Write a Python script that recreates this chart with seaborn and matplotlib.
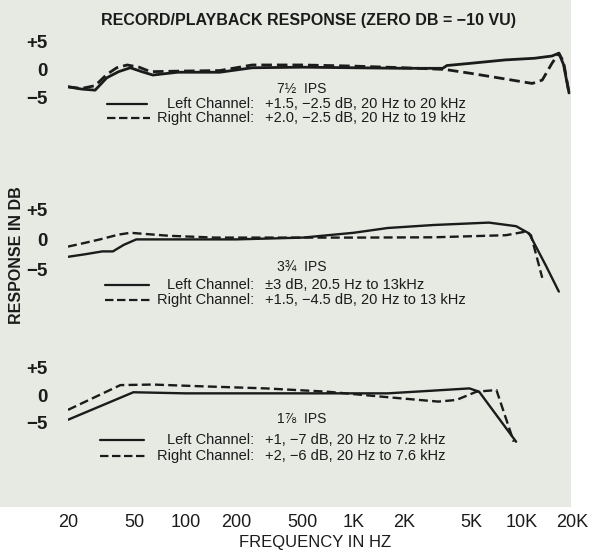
import numpy as np
import pandas as pd
import matplotlib
matplotlib.use("Agg")
import matplotlib.pyplot as plt
from matplotlib.patches import Rectangle
from matplotlib.lines import Line2D
import seaborn as sns

# frequency (Hz) / response (dB), one pair per channel and speed
f_75_left = [20, 24, 29, 34, 40, 47, 55, 64, 90, 160, 250, 500, 1000, 2000, 3400, 3600, 5000, 8000, 12000, 15200, 16700, 17800, 19200]
db_75_left = [-3.0, -3.4, -3.6, -1.4, -0.3, 0.4, -0.3, -0.9, -0.4, -0.4, 0.4, 0.5, 0.4, 0.3, 0.3, 0.8, 1.2, 1.8, 2.1, 2.5, 3.0, 1.0, -4.1]
f_75_right = [20, 24, 29, 34, 39, 45, 53, 62, 90, 160, 250, 500, 1000, 2000, 3500, 5000, 8000, 11600, 13300, 15200, 16700, 17800, 19200]
db_75_right = [-3.0, -3.3, -2.8, -0.8, 0.4, 0.9, 0.5, -0.3, -0.2, -0.1, 0.9, 0.9, 0.7, 0.4, 0.1, -0.6, -1.6, -2.4, -1.8, 1.2, 3.0, 1.5, -4.1]

f_375_left = [20, 25, 32, 37, 43, 51, 100, 200, 500, 1000, 1600, 3000, 6400, 9300, 11100, 14000, 16700]
db_375_left = [-2.8, -2.4, -1.9, -1.9, -0.8, 0.1, 0.1, 0.1, 0.4, 1.2, 2.0, 2.5, 2.9, 2.3, 1.1, -4.3, -8.6]
f_375_right = [20, 25, 31, 40, 47, 80, 150, 300, 1000, 3000, 8100, 10600, 11400, 13300]
db_375_right = [-1.1, -0.5, 0.1, 0.9, 1.2, 0.7, 0.4, 0.4, 0.4, 0.45, 0.8, 1.4, 0.8, -6.3]

f_178_left = [20, 49, 100, 300, 1000, 1600, 3000, 4900, 5600, 9300]
db_178_left = [-4.5, 0.5, 0.3, 0.3, 0.3, 0.3, 0.8, 1.2, 0.6, -8.5]
f_178_right = [20, 41, 64, 120, 300, 700, 1600, 3200, 4100, 5400, 7100, 9000]
db_178_right = [-2.7, 1.8, 1.9, 1.6, 1.2, 0.6, -0.4, -1.2, -0.9, 0.6, 0.9, -8.5]

speeds = ["7\u00bd  IPS", "3\u00be  IPS", "1\u215e  IPS"]
left_specs = ["+1.5, \u22122.5 dB, 20 Hz to 20 kHz",
              "\u00b13 dB, 20.5 Hz to 13kHz",
              "+1, \u22127 dB, 20 Hz to 7.2 kHz"]
right_specs = ["+2.0, \u22122.5 dB, 20 Hz to 19 kHz",
               "+1.5, \u22124.5 dB, 20 Hz to 13 kHz",
               "+2, \u22126 dB, 20 Hz to 7.6 kHz"]

freq_ticks = [20, 50, 100, 200, 500, 1000, 2000, 5000, 10000, 20000]
freq_labels = ["20", "50", "100", "200", "500", "1K", "2K", "5K", "10K", "20K"]

sns.set_style("white")
FONT = ["Liberation Sans", "DejaVu Sans"]
plt.rcParams["font.family"] = FONT

W, H = 589, 551
INK = "#1b1b1b"
fig = plt.figure(figsize=(W / 100, H / 100), dpi=100, facecolor="white")
fig.patches.append(Rectangle((0, 1 - 507 / H), 571 / W, 507 / H, transform=fig.transFigure,
                             facecolor="#e6eae3", edgecolor="none", zorder=-5))


def px(x, y):
    return x / W, 1 - y / H


panels = [
    (f_75_left, db_75_left, f_75_right, db_75_right),
    (f_375_left, db_375_left, f_375_right, db_375_right),
    (f_178_left, db_178_left, f_178_right, db_178_right),
]
# zero line pixel row, px per dB
zero_rows = [70, 240, 395]
scales = [5.6, 6.0, 5.5]
label_rows = [(89, 104, 118), (268, 285, 300), (419, 440, 456)]
line_x = [(107, 150), (105, 152), (100, 147)]

for i, (fl, dl, fr, dr) in enumerate(panels):
    top = zero_rows[i] - 7 * scales[i]
    bot = zero_rows[i] + 10 * scales[i]
    ax = fig.add_axes([68 / W, 1 - bot / H, 504 / W, (bot - top) / H])
    ax.patch.set_alpha(0)
    df = pd.DataFrame({
        "freq": fl + fr,
        "db": dl + dr,
        "channel": ["Left"] * len(fl) + ["Right"] * len(fr),
    })
    lw = 2.0 if i == 0 else 1.7
    sns.lineplot(data=df, x="freq", y="db", style="channel", ax=ax, color=INK,
                 dashes={"Left": "", "Right": (3.8, 1.8)}, estimator=None,
                 sort=False, legend=False, linewidth=lw)
    ax.set_xscale("log")
    ax.set_xlim(20, 20000)
    ax.set_ylim(-10, 7)
    for s in ax.spines.values():
        s.set_visible(False)
    ax.set_yticks([5, 0, -5])
    ax.set_yticklabels(["+5", "0", "\u22125"], fontsize=13.5, fontweight="bold", color=INK)
    ax.tick_params(axis="y", length=0, pad=15)
    ax.set_xlabel("")
    ax.set_ylabel("")
    ax.minorticks_off()
    if i == 2:
        ax.set_xticks(freq_ticks)
        ax.set_xticklabels(freq_labels, fontsize=13, color=INK)
        ax.tick_params(axis="x", length=0, pad=46)
    else:
        ax.set_xticks([])

    ys, y1, y2 = label_rows[i]
    fig.text(*px(302, ys), speeds[i], ha="center", va="center", fontsize=10, color=INK,
             family=FONT)
    x0, x1 = line_x[i]
    fig.add_artist(Line2D([x0 / W, (x1 - 3) / W], [1 - y1 / H] * 2, color=INK, lw=1.6))
    fig.add_artist(Line2D([x0 / W, x1 / W], [1 - y2 / H] * 2, color=INK, lw=1.6,
                          linestyle=(0, (3.8, 1.6))))
    fig.text(*px(254, y1), "Left Channel:", ha="right", va="center", fontsize=10.5, color=INK)
    fig.text(*px(254, y2), "Right Channel:", ha="right", va="center", fontsize=10.5, color=INK)
    fig.text(*px(265, y1), left_specs[i], ha="left", va="center", fontsize=10.5, color=INK)
    fig.text(*px(265, y2), right_specs[i], ha="left", va="center", fontsize=10.5, color=INK)

fig.text(*px(308, 20), "RECORD/PLAYBACK RESPONSE (ZERO DB = \u221210 VU)", ha="center",
         va="center", fontsize=11.5, fontweight="bold", color=INK)
fig.text(*px(17, 255), "RESPONSE IN DB", rotation=90, ha="center", va="center",
         fontsize=11.5, fontweight="bold", color=INK)
fig.text(*px(315, 542), "FREQUENCY IN HZ", ha="center", va="center", fontsize=12, color=INK)

fig.savefig("out.png", dpi=100, facecolor="white")
